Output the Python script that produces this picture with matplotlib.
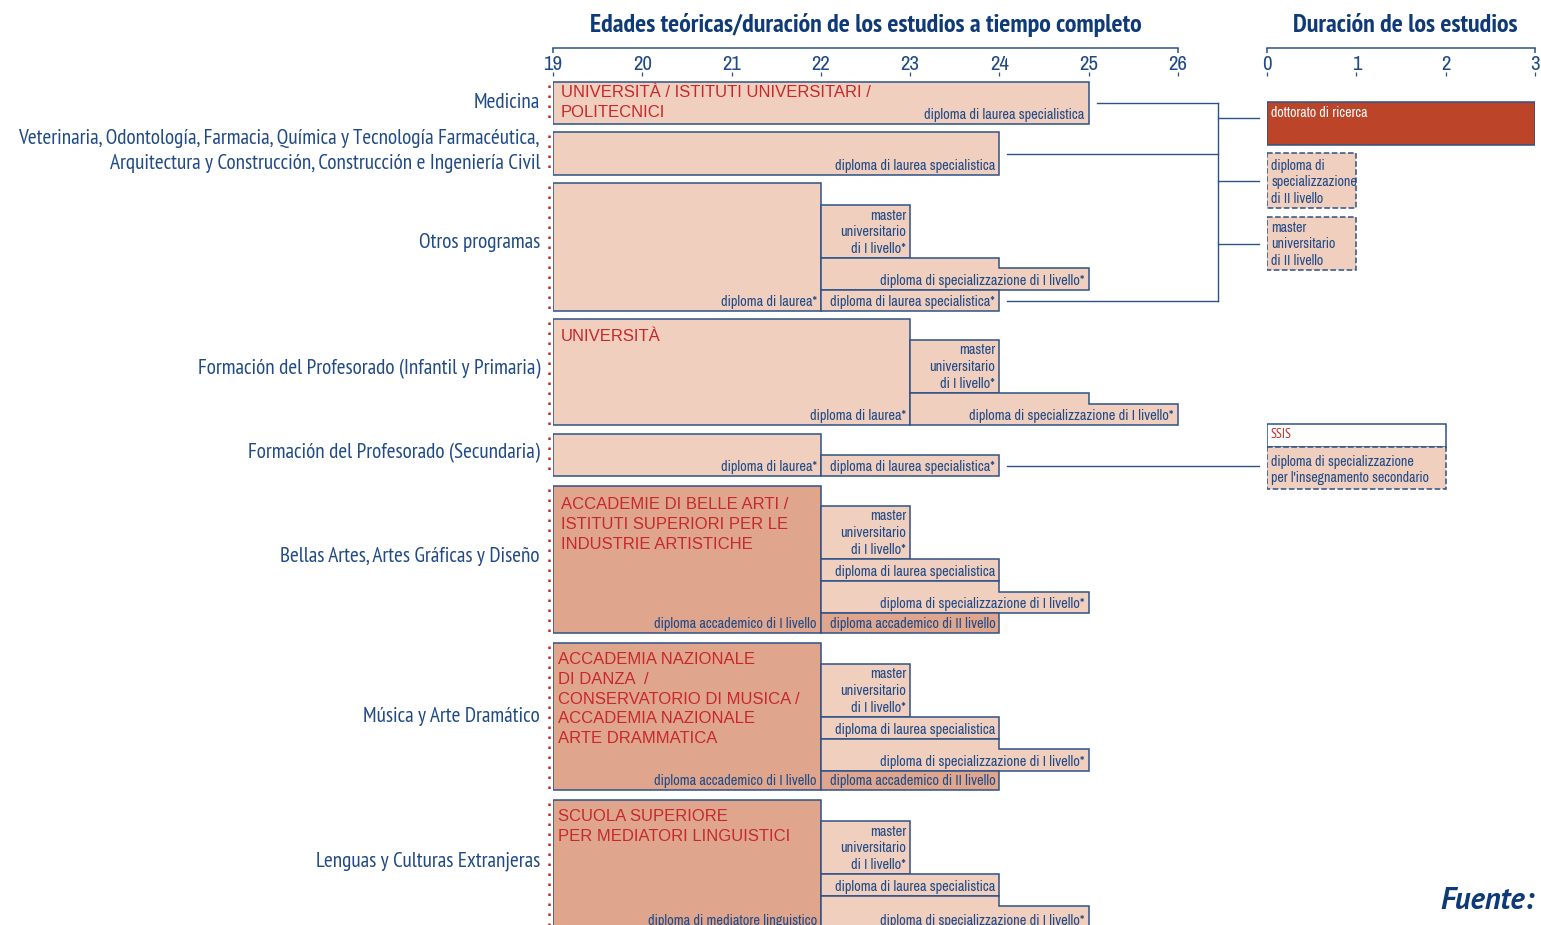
import matplotlib.pyplot as plt
from matplotlib.patches import Polygon, Rectangle

# ---- data ----
row_labels = [
    "Medicina",
    "Veterinaria, Odontología, Farmacia, Química y Tecnología Farmacéutica,\n"
    "Arquitectura y Construcción, Construcción e Ingeniería Civil",
    "Otros programas",
    "Formación del Profesorado (Infantil y Primaria)",
    "Formación del Profesorado (Secundaria)",
    "Bellas Artes, Artes Gráficas y Diseño",
    "Música y Arte Dramático",
    "Lenguas y Culturas Extranjeras",
]
institutions = [
    "UNIVERSITÀ / ISTITUTI UNIVERSITARI /\nPOLITECNICI",
    "",
    "",
    "UNIVERSITÀ",
    "",
    "ACCADEMIE DI BELLE ARTI /\nISTITUTI SUPERIORI PER LE\nINDUSTRIE ARTISTICHE",
    "ACCADEMIA NAZIONALE\nDI DANZA  /\nCONSERVATORIO DI MUSICA /\nACCADEMIA NAZIONALE\nARTE DRAMMATICA",
    "SCUOLA SUPERIORE\nPER MEDIATORI LINGUISTICI",
]

master_1 = "master\nuniversitario\ndi I livello*"
spec_1 = "diploma di specializzazione di I livello*"

# programme blocks: row, label, start age, end age, age where the block steps down, tier
prog_row = [0, 1, 2, 2, 2, 2, 3, 3, 3, 4, 4, 5, 5, 5, 5, 5, 6, 6, 6, 6, 6, 7, 7, 7, 7]
prog_label = [
    "diploma di laurea specialistica",
    "diploma di laurea specialistica",
    "diploma di laurea*", master_1, spec_1, "diploma di laurea specialistica*",
    "diploma di laurea*", master_1, spec_1,
    "diploma di laurea*", "diploma di laurea specialistica*",
    "diploma accademico di I livello", master_1, "diploma di laurea specialistica", spec_1,
    "diploma accademico di II livello",
    "diploma accademico di I livello", master_1, "diploma di laurea specialistica", spec_1,
    "diploma accademico di II livello",
    "diploma di mediatore linguistico", master_1, "diploma di laurea specialistica", spec_1,
]
prog_start = [19, 19, 19, 22, 22, 22, 19, 23, 23, 19, 22,
              19, 22, 22, 22, 22, 19, 22, 22, 22, 22, 19, 22, 22, 22]
prog_end = [25, 24, 22, 23, 25, 24, 23, 24, 26, 22, 24,
            22, 23, 24, 25, 24, 22, 23, 24, 25, 24, 22, 23, 24, 25]
prog_step = [None, None, None, None, 24, None, None, None, 25, None, None,
             None, None, None, 24, None, None, None, None, 24, None, None, None, None, 24]
prog_tier = ["u", "u", "u", "u", "u", "u", "u", "u", "u", "u", "u",
             "a", "u", "u", "u", "a", "a", "u", "u", "u", "a", "a", "u", "u", "u"]

# further studies (duration in years)
post_label = ["dottorato di ricerca", "diploma di\nspecializzazione\ndi II livello",
              "master\nuniversitario\ndi II livello", "SSIS",
              "diploma di specializzazione\nper l'insegnamento secondario"]
post_years = [3, 1, 1, 2, 2]
post_kind = ["doc", "dash", "dash", "open", "dash"]

age_ticks = [19, 20, 21, 22, 23, 24, 25, 26]
dur_ticks = [0, 1, 2, 3]

# ---- layout (pixel rows, y grows downward) ----
row_top = [82, 132, 183, 319, 434, 486, 643, 800]
row_bot = [124, 175, 311, 425, 476, 633, 790, 935]
row_label_y = [102, 151, 243, 369, 453, 557, 716, 861]
inst_y = [85, 0, 0, 329, 0, 497, 652, 809]
inst_dx = [8, 8, 8, 8, 8, 8, 5, 5]
prog_y = [(82, 124), (132, 175),
          (183, 311), (205, 258), (258, 268, 290), (290, 311),
          (319, 425), (340, 393), (393, 404, 425),
          (434, 476), (455, 476),
          (486, 633), (506, 559), (559, 581), (581, 592, 613), (613, 633),
          (643, 790), (664, 717), (717, 739), (739, 749, 771), (771, 790),
          (800, 935), (821, 874), (874, 896), (896, 906, 935)]
post_y = [(102, 145), (153, 208), (217, 270), (424, 447), (447, 489)]
post_text_dy = [4, 6, 4, 4, 8]
links_from = [0, 1, 5]  # blocks that lead on to the doctorate / II level
link_to = [0, 1, 2]
trunk_px = 1218
doc_link_y = 118

W, H = 1541, 925
LIGHT = "#f0cfbf"
DARK = "#e0a68d"
RUST = "#bb4429"
EDGE = "#2d5288"
BLUE = "#204a86"
NAVY = "#0e3a78"
RED = "#c6292b"
MYRIAD = ["PT Sans Narrow", "DejaVu Sans"]
NARROW = ["Archivo Narrow", "DejaVu Sans"]
ARIAL = ["Liberation Sans", "DejaVu Sans"]

fig = plt.figure(figsize=(W / 100, H / 100), dpi=100)
ax = fig.add_axes([553 / W, 0, (1535 - 553) / W, 1])
ax.set_xlim(19, 30)
ax.set_ylim(H, 0)
ax.axis("off")
ax2 = fig.add_axes([1267 / W, 0, (1535 - 1267) / W, 1])
ax2.set_xlim(0, 3)
ax2.set_ylim(H, 0)
ax2.axis("off")
px = 11 / (1535 - 553)

# headers and scales
ax.text(22.5, 25, "Edades teóricas/duración de los estudios a tiempo completo",
        ha="center", va="center", fontsize=18.7, fontweight="bold", color=NAVY, family=MYRIAD)
ax2.text(1.55, 25, "Duración de los estudios", ha="center", va="center",
         fontsize=18.7, fontweight="bold", color=NAVY, family=MYRIAD)
for a, ticks in [(ax, age_ticks), (ax2, dur_ticks)]:
    a.plot([ticks[0], ticks[-1]], [48, 48], color=EDGE, lw=1.1, clip_on=False)
    a.vlines([ticks[0], ticks[-1]], 48, 53, color=EDGE, lw=1.1, clip_on=False)
    a.vlines(ticks, 72, 76, color=EDGE, lw=0.9, clip_on=False)
    for t in ticks:
        a.text(t, 65, str(t), ha="center", va="center", fontsize=15,
               color=BLUE, family=NARROW, clip_on=False)

# rows
for i, lab in enumerate(row_labels):
    ax.text(19 - 13 * px, row_label_y[i], lab, ha="right", va="center", fontsize=15.3,
            color=BLUE, family=MYRIAD, linespacing=1.45)
    ax.vlines(19 - 4 * px, row_top[i] + 3, min(row_bot[i], H), color=RED, lw=1.8,
              linestyles=(0, (1, 3)), clip_on=False)
    if institutions[i]:
        ax.text(19 + inst_dx[i] * px, inst_y[i], institutions[i], ha="left", va="top",
                fontsize=12, color=RED, family=ARIAL, linespacing=1.4, zorder=5)

for k in range(len(prog_label)):
    face = DARK if prog_tier[k] == "a" else LIGHT
    s, e, st = prog_start[k], prog_end[k], prog_step[k]
    ys = prog_y[k]
    top, bot = ys[0], ys[-1]
    if st is None:
        patch = Rectangle((s, top), e - s, bot - top)
    else:
        patch = Polygon([(s, top), (st, top), (st, ys[1]), (e, ys[1]), (e, bot), (s, bot)])
    patch.set(facecolor=face, edgecolor=EDGE, linewidth=1.1, zorder=2 + k * 0.01)
    ax.add_patch(patch)
    ax.text(e - 4 * px, min(bot, 930) - 2, prog_label[k], ha="right", va="bottom",
            fontsize=10.3, color=BLUE, family=NARROW, multialignment="right",
            linespacing=1.25, zorder=5)

# further studies panel
for k in range(len(post_label)):
    top, bot = post_y[k]
    kind = post_kind[k]
    face = {"doc": RUST, "dash": LIGHT, "open": "white"}[kind]
    ls = "--" if kind == "dash" else "-"
    ax2.add_patch(Rectangle((0, top), post_years[k], bot - top, facecolor=face,
                            edgecolor=EDGE, linewidth=1.1, linestyle=ls, zorder=2 + k * 0.01))
    col = "white" if kind == "doc" else (RED if kind == "open" else BLUE)
    fam = MYRIAD if kind == "open" else NARROW
    ax2.text(0.045, top + post_text_dy[k], post_label[k], ha="left", va="top",
             fontsize=10.1, color=col, family=fam, linespacing=1.22, zorder=5)

# connectors
trunk = 19 + (trunk_px - 553) * px
ys_from = [(prog_y[k][0] + prog_y[k][-1]) / 2 for k in links_from]
for k, y in zip(links_from, ys_from):
    ax.plot([prog_end[k] + 8 * px, trunk], [y, y], color=EDGE, lw=1.0)
ax.plot([trunk, trunk], [min(ys_from), max(ys_from)], color=EDGE, lw=1.0)
for j in link_to:
    y = doc_link_y if j == 0 else (post_y[j][0] + post_y[j][1]) / 2
    ax.plot([trunk, 27 - 8 * px], [y, y], color=EDGE, lw=1.0)
y_sec = (prog_y[10][0] + prog_y[10][1]) / 2
ax.plot([prog_end[10] + 8 * px, 27 - 8 * px], [y_sec, y_sec], color=EDGE, lw=1.0)

fig.text(1535 / W, 1 - 901 / H, "Fuente:", ha="right", va="center", fontsize=22,
         fontweight="bold", style="italic", color=NAVY, family=["PT Sans", "DejaVu Sans"])

fig.savefig("out.png", dpi=100)
